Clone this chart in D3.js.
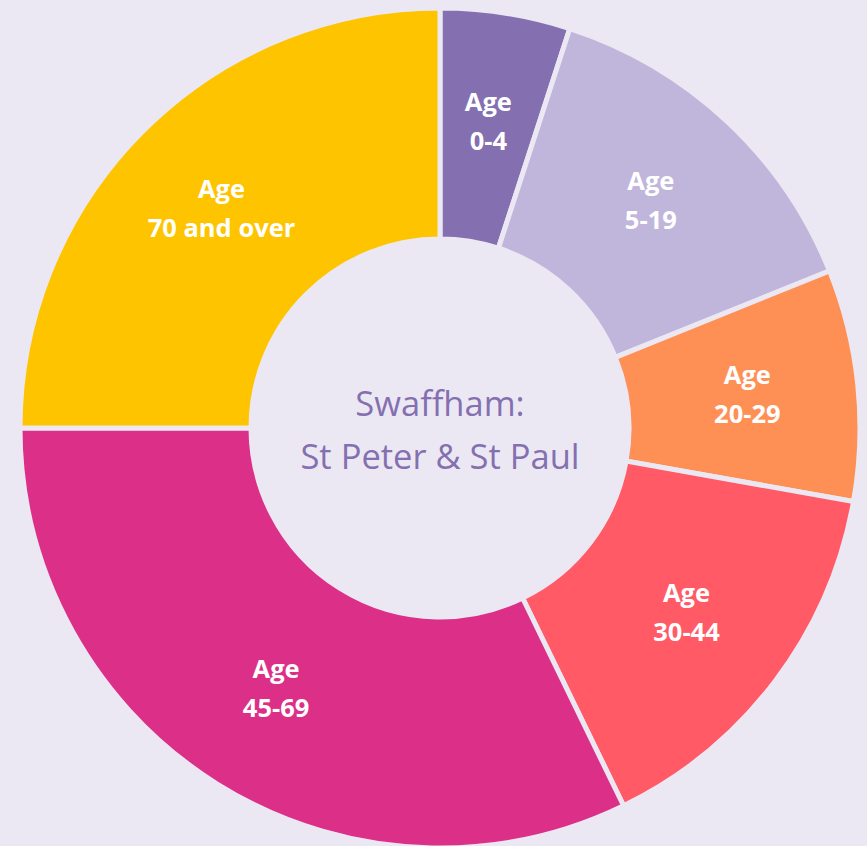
<!DOCTYPE html>
<html>
<head>
<meta charset="utf-8">
<script src="https://cdn.jsdelivr.net/npm/d3@7"></script>
<style>
  html, body { margin: 0; padding: 0; background: #ece8f3; }
  svg { display: block; }
</style>
</head>
<body>
<div id="chart"></div>
<script>
// age bands and share of population (%), clockwise from 12 o'clock
const bands = ['0-4', '5-19', '20-29', '30-44', '45-69', '70 and over'];
const shares = [5.0, 13.9, 8.9, 15.0, 32.2, 25.0];
const colours = ['#8470b0', '#c0b6dc', '#ff9055', '#ff5a65', '#dc2f88', '#fec400'];
const title = ['Swaffham:', 'St Peter & St Paul'];

const width = 867, height = 846;
const cx = 440, cy = 428;
const outerR = 420, innerR = 189;

const data = bands.map((b, i) => ({ band: b, share: shares[i] }));

const svg = d3
  .select('#chart')
  .append('svg')
  .attr('width', width)
  .attr('height', height);

const g = svg.append('g').attr('transform', 'translate(' + cx + ',' + cy + ')');

const pie = d3.pie().sort(null).value((d) => d.share);
const arc = d3.arc().innerRadius(innerR).outerRadius(outerR);
const labelArc = d3.arc().innerRadius(309).outerRadius(309);

const colour = d3.scaleOrdinal().domain(bands).range(colours);

const arcs = pie(data);

g.selectAll('.slice')
  .data(arcs)
  .enter()
  .append('path')
  .attr('class', 'slice')
  .attr('d', arc)
  .attr('fill', (d) => colour(d.data.band))
  .attr('stroke', '#ece8f3')
  .attr('stroke-width', 5)
  .attr('stroke-linejoin', 'miter');

// slice labels, two lines each
const labels = g
  .selectAll('.label')
  .data(arcs)
  .enter()
  .append('text')
  .attr('class', 'label')
  .attr('transform', (d) => 'translate(' + labelArc.centroid(d) + ')')
  .attr('text-anchor', 'middle')
  .style('font-family', '"Open Sans", sans-serif')
  .style('font-weight', 'bold')
  .style('font-size', '25.5px')
  .attr('fill', '#ffffff');

labels.append('tspan').attr('x', 0).attr('y', -12).text('Age');
labels.append('tspan').attr('x', 0).attr('y', 27).text((d) => d.data.band);

// centre title
const centre = g
  .append('text')
  .attr('text-anchor', 'middle')
  .style('font-family', '"Open Sans", sans-serif')
  .style('font-size', '34.5px')
  .attr('fill', '#8470b0');

centre.append('tspan').attr('x', 0).attr('y', -12).text(title[0]);
centre.append('tspan').attr('x', 0).attr('y', 41).text(title[1]);
</script>
</body>
</html>
